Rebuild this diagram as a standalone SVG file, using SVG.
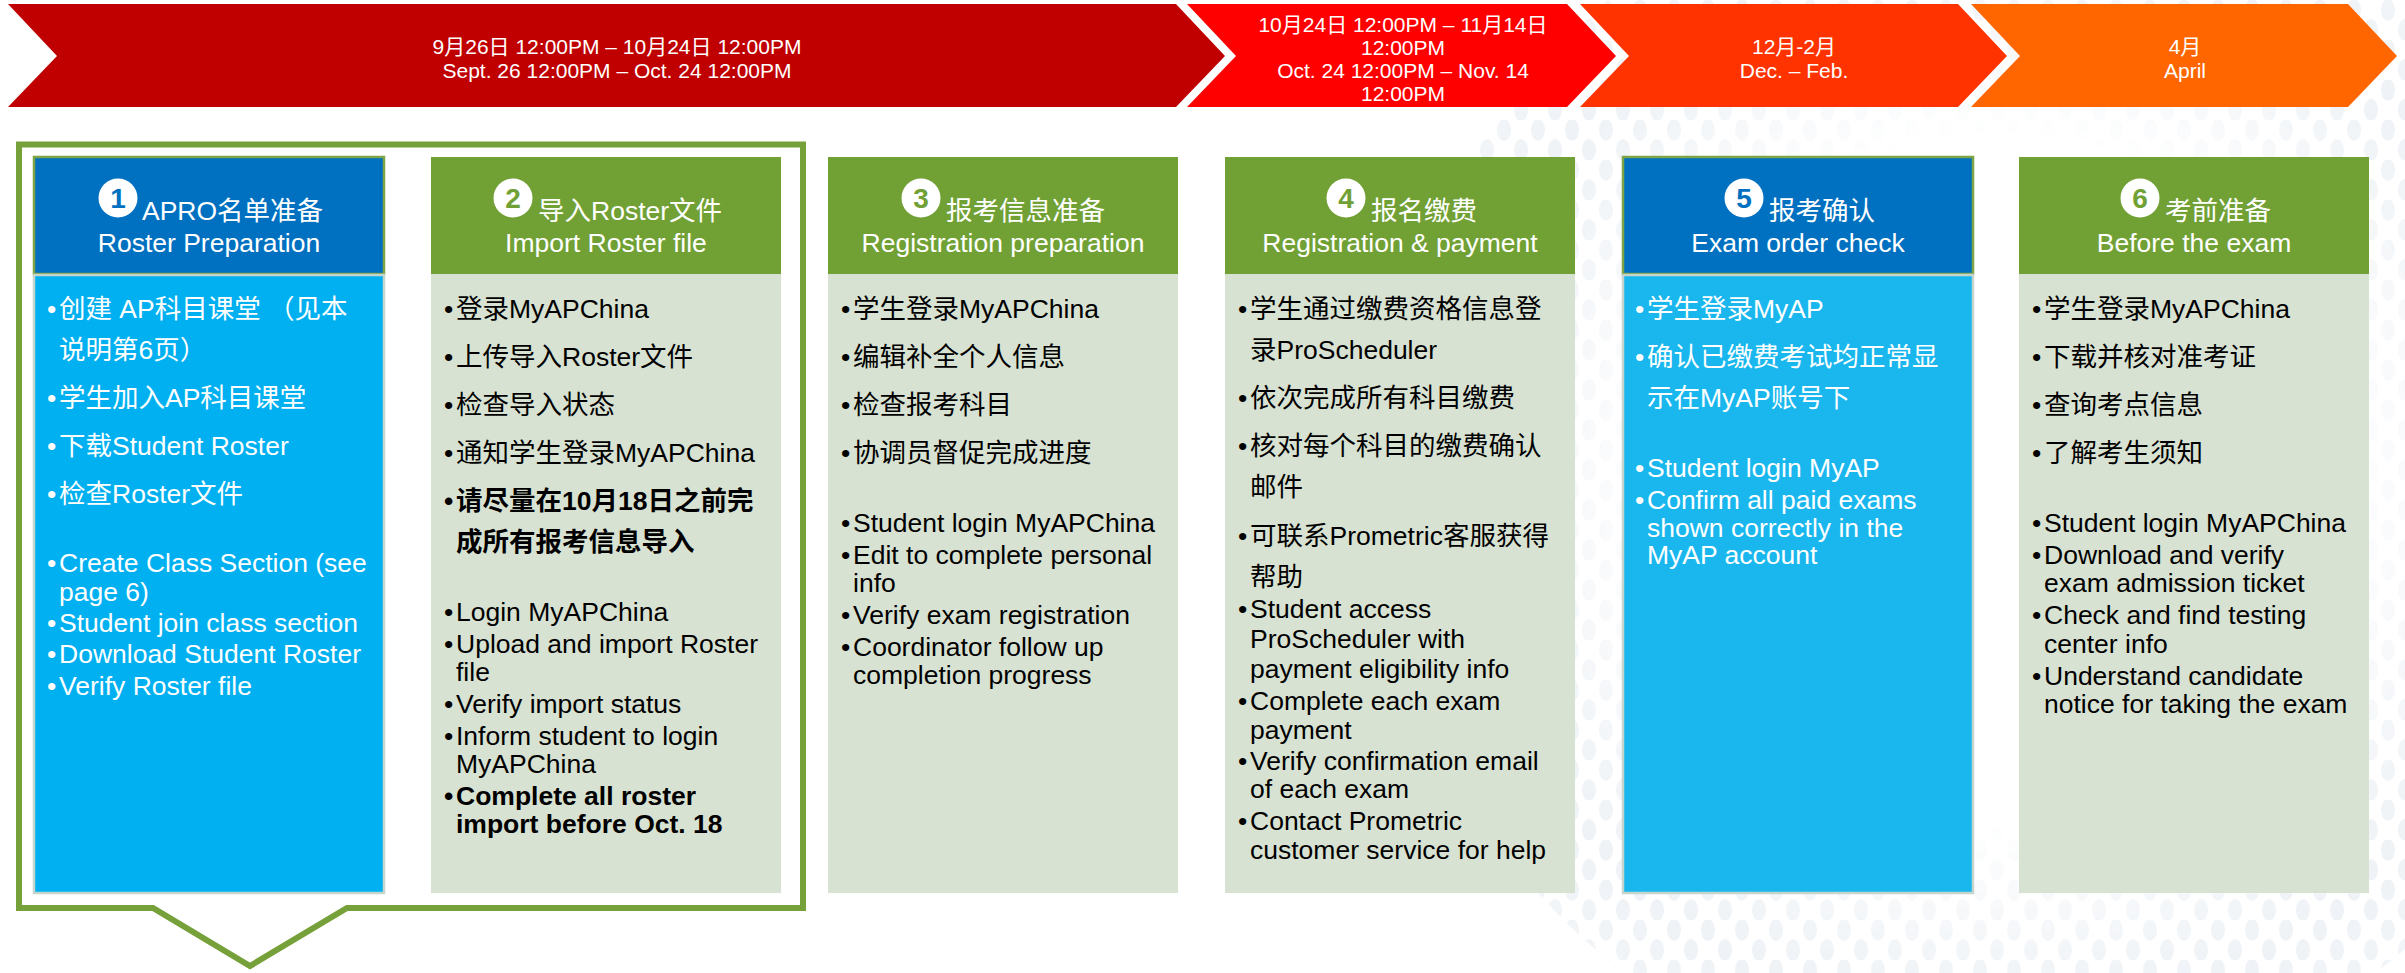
<svg xmlns="http://www.w3.org/2000/svg" width="2405" height="973" viewBox="0 0 2405 973">
  <defs>
    <style>
      text { font-family: "Liberation Sans", "Noto Sans CJK SC", sans-serif; }
      .band { fill: #fff; font-size: 21px; text-anchor: middle; }
      .ttl { fill: #fff; font-size: 26.5px; }
      .sub { fill: #fff; font-size: 26.5px; text-anchor: middle; }
      .num { font-size: 28px; font-weight: bold; text-anchor: middle; }
      .body { font-size: 26.5px; fill: #000; }
      .on-blue { fill: #fff; }
      .bold { font-weight: bold; }
      .hd-blue { fill: #0070C0; stroke: #7DA545; stroke-width: 2.5; }
      .hd-green { fill: #71A135; }
      .bd-blue { fill: #00B0F0; stroke: #C5D5CD; stroke-width: 2.5; }
      .bd-blue2 { fill: #19B7EE; stroke: #C5D5CD; stroke-width: 2.5; }
      .bd-green { fill: #D8E2D2; }
    </style>
    <!-- faint dotted globe in the background -->
    <pattern id="dots" width="34" height="40" patternUnits="userSpaceOnUse">
      <ellipse cx="8" cy="10" rx="7" ry="11" fill="#E9EEF3"/>
      <ellipse cx="25" cy="30" rx="7" ry="11" fill="#E9EEF3"/>
    </pattern>
    <radialGradient id="globeFade" gradientUnits="userSpaceOnUse" cx="2000" cy="480" r="620">
      <stop offset="0" stop-color="#000"/>
      <stop offset="0.55" stop-color="#000"/>
      <stop offset="0.88" stop-color="#fff" stop-opacity="0.75"/>
      <stop offset="1" stop-color="#fff" stop-opacity="0.6"/>
    </radialGradient>
    <mask id="globeMask" maskUnits="userSpaceOnUse" x="0" y="0" width="2405" height="973">
      <circle cx="2000" cy="480" r="620" fill="url(#globeFade)"/>
    </mask>
  </defs>

  <rect width="2405" height="973" fill="#fff"/>
  <circle cx="2000" cy="480" r="620" fill="url(#dots)" mask="url(#globeMask)"/>

  <!-- timeline banner -->
  <g id="timeline">
    <g id="phase-1">
      <path d="M8,4 H1176 L1225,56 L1176,107 H8 L57,56 Z" fill="#C00000"/>
      <text class="band" x="617" y="54">9月26日 12:00PM – 10月24日 12:00PM</text>
      <text class="band" x="617" y="78">Sept. 26 12:00PM – Oct. 24 12:00PM</text>
    </g>
    <g id="phase-2">
      <path d="M1187,4 H1567 L1616,56 L1567,107 H1187 L1236,56 Z" fill="#FF0000"/>
      <text class="band" x="1403" y="32">10月24日 12:00PM – 11月14日</text>
      <text class="band" x="1403" y="55">12:00PM</text>
      <text class="band" x="1403" y="78">Oct. 24 12:00PM – Nov. 14</text>
      <text class="band" x="1403" y="101">12:00PM</text>
    </g>
    <g id="phase-3">
      <path d="M1580,4 H1958 L2007,56 L1958,107 H1580 L1629,56 Z" fill="#FF3300"/>
      <text class="band" x="1794" y="54">12月-2月</text>
      <text class="band" x="1794" y="78">Dec. – Feb.</text>
    </g>
    <g id="phase-4">
      <path d="M1971,4 H2348 L2397,56 L2348,107 H1971 L2020,56 Z" fill="#FF6600"/>
      <text class="band" x="2185" y="54">4月</text>
      <text class="band" x="2185" y="78">April</text>
    </g>
  </g>

  <!-- callout frame around the first two steps -->
  <g id="roster-frame">
    <path d="M19,144.5 H803 V908 H347 L250,966 L153,908 H19 Z" fill="none" stroke="#76A13A" stroke-width="6"/>
  </g>

  <!-- step 1 -->
  <g id="step-1">
    <rect class="hd-blue" x="34" y="157" width="350" height="117"/>
    <rect class="bd-blue" x="34" y="275" width="350" height="618"/>
    <circle cx="118" cy="198" r="19.5" fill="#fff"/>
    <text class="num" x="118" y="208" fill="#0070C0">1</text>
    <text class="ttl" x="142" y="220">APRO名单准备</text>
    <text class="sub" x="209" y="252">Roster Preparation</text>
    <text class="body on-blue">
      <tspan x="47" y="318">•</tspan><tspan x="59" y="318">创建 AP科目课堂 （见本</tspan>
      <tspan x="59" y="359">说明第6页）</tspan>
      <tspan x="47" y="407">•</tspan><tspan x="59" y="407">学生加入AP科目课堂</tspan>
      <tspan x="47" y="455">•</tspan><tspan x="59" y="455">下载Student Roster</tspan>
      <tspan x="47" y="503">•</tspan><tspan x="59" y="503">检查Roster文件</tspan>
      <tspan x="47" y="572">•</tspan><tspan x="59" y="572">Create Class Section (see</tspan>
      <tspan x="59" y="601">page 6)</tspan>
      <tspan x="47" y="632">•</tspan><tspan x="59" y="632">Student join class section</tspan>
      <tspan x="47" y="663">•</tspan><tspan x="59" y="663">Download Student Roster</tspan>
      <tspan x="47" y="695">•</tspan><tspan x="59" y="695">Verify Roster file</tspan>
    </text>
  </g>

  <!-- step 2 -->
  <g id="step-2">
    <rect class="hd-green" x="431" y="157" width="350" height="117"/>
    <rect class="bd-green" x="431" y="274" width="350" height="619"/>
    <circle cx="513" cy="198" r="19.5" fill="#fff"/>
    <text class="num" x="513" y="208" fill="#71A135">2</text>
    <text class="ttl" x="538" y="220">导入Roster文件</text>
    <text class="sub" x="606" y="252">Import Roster file</text>
    <text class="body">
      <tspan x="444" y="318">•</tspan><tspan x="456" y="318">登录MyAPChina</tspan>
      <tspan x="444" y="366">•</tspan><tspan x="456" y="366">上传导入Roster文件</tspan>
      <tspan x="444" y="414">•</tspan><tspan x="456" y="414">检查导入状态</tspan>
      <tspan x="444" y="462">•</tspan><tspan x="456" y="462">通知学生登录MyAPChina</tspan>
      <tspan class="bold" x="444" y="510">•</tspan><tspan class="bold" x="456" y="510">请尽量在10月18日之前完</tspan>
      <tspan class="bold" x="456" y="551">成所有报考信息导入</tspan>
      <tspan x="444" y="621">•</tspan><tspan x="456" y="621">Login MyAPChina</tspan>
      <tspan x="444" y="653">•</tspan><tspan x="456" y="653">Upload and import Roster</tspan>
      <tspan x="456" y="681">file</tspan>
      <tspan x="444" y="713">•</tspan><tspan x="456" y="713">Verify import status</tspan>
      <tspan x="444" y="745">•</tspan><tspan x="456" y="745">Inform student to login</tspan>
      <tspan x="456" y="773">MyAPChina</tspan>
      <tspan class="bold" x="444" y="805">•</tspan><tspan class="bold" x="456" y="805">Complete all roster</tspan>
      <tspan class="bold" x="456" y="833">import before Oct. 18</tspan>
    </text>
  </g>

  <!-- step 3 -->
  <g id="step-3">
    <rect class="hd-green" x="828" y="157" width="350" height="117"/>
    <rect class="bd-green" x="828" y="274" width="350" height="619"/>
    <circle cx="921" cy="198" r="19.5" fill="#fff"/>
    <text class="num" x="921" y="208" fill="#71A135">3</text>
    <text class="ttl" x="946" y="220">报考信息准备</text>
    <text class="sub" x="1003" y="252">Registration preparation</text>
    <text class="body">
      <tspan x="841" y="318">•</tspan><tspan x="853" y="318">学生登录MyAPChina</tspan>
      <tspan x="841" y="366">•</tspan><tspan x="853" y="366">编辑补全个人信息</tspan>
      <tspan x="841" y="414">•</tspan><tspan x="853" y="414">检查报考科目</tspan>
      <tspan x="841" y="462">•</tspan><tspan x="853" y="462">协调员督促完成进度</tspan>
      <tspan x="841" y="532">•</tspan><tspan x="853" y="532">Student login MyAPChina</tspan>
      <tspan x="841" y="564">•</tspan><tspan x="853" y="564">Edit to complete personal</tspan>
      <tspan x="853" y="592">info</tspan>
      <tspan x="841" y="624">•</tspan><tspan x="853" y="624">Verify exam registration</tspan>
      <tspan x="841" y="656">•</tspan><tspan x="853" y="656">Coordinator follow up</tspan>
      <tspan x="853" y="684">completion progress</tspan>
    </text>
  </g>

  <!-- step 4 -->
  <g id="step-4">
    <rect class="hd-green" x="1225" y="157" width="350" height="117"/>
    <rect class="bd-green" x="1225" y="274" width="350" height="619"/>
    <circle cx="1346" cy="198" r="19.5" fill="#fff"/>
    <text class="num" x="1346" y="208" fill="#71A135">4</text>
    <text class="ttl" x="1371" y="220">报名缴费</text>
    <text class="sub" x="1400" y="252">Registration &amp; payment</text>
    <text class="body">
      <tspan x="1238" y="318">•</tspan><tspan x="1250" y="318">学生通过缴费资格信息登</tspan>
      <tspan x="1250" y="359">录ProScheduler</tspan>
      <tspan x="1238" y="407">•</tspan><tspan x="1250" y="407">依次完成所有科目缴费</tspan>
      <tspan x="1238" y="455">•</tspan><tspan x="1250" y="455">核对每个科目的缴费确认</tspan>
      <tspan x="1250" y="496">邮件</tspan>
      <tspan x="1238" y="545">•</tspan><tspan x="1250" y="545">可联系Prometric客服获得</tspan>
      <tspan x="1250" y="586">帮助</tspan>
      <tspan x="1238" y="618">•</tspan><tspan x="1250" y="618">Student access</tspan>
      <tspan x="1250" y="648">ProScheduler with</tspan>
      <tspan x="1250" y="678">payment eligibility info</tspan>
      <tspan x="1238" y="710">•</tspan><tspan x="1250" y="710">Complete each exam</tspan>
      <tspan x="1250" y="739">payment</tspan>
      <tspan x="1238" y="770">•</tspan><tspan x="1250" y="770">Verify confirmation email</tspan>
      <tspan x="1250" y="798">of each exam</tspan>
      <tspan x="1238" y="830">•</tspan><tspan x="1250" y="830">Contact Prometric</tspan>
      <tspan x="1250" y="859">customer service for help</tspan>
    </text>
  </g>

  <!-- step 5 -->
  <g id="step-5">
    <rect class="hd-blue" x="1623" y="157" width="350" height="117"/>
    <rect class="bd-blue2" x="1623" y="275" width="350" height="618"/>
    <circle cx="1744" cy="198" r="19.5" fill="#fff"/>
    <text class="num" x="1744" y="208" fill="#0070C0">5</text>
    <text class="ttl" x="1769" y="220">报考确认</text>
    <text class="sub" x="1798" y="252">Exam order check</text>
    <text class="body on-blue">
      <tspan x="1635" y="318">•</tspan><tspan x="1647" y="318">学生登录MyAP</tspan>
      <tspan x="1635" y="366">•</tspan><tspan x="1647" y="366">确认已缴费考试均正常显</tspan>
      <tspan x="1647" y="407">示在MyAP账号下</tspan>
      <tspan x="1635" y="477">•</tspan><tspan x="1647" y="477">Student login MyAP</tspan>
      <tspan x="1635" y="509">•</tspan><tspan x="1647" y="509">Confirm all paid exams</tspan>
      <tspan x="1647" y="537">shown correctly in the</tspan>
      <tspan x="1647" y="564">MyAP account</tspan>
    </text>
  </g>

  <!-- step 6 -->
  <g id="step-6">
    <rect class="hd-green" x="2019" y="157" width="350" height="117"/>
    <rect class="bd-green" x="2019" y="274" width="350" height="619"/>
    <circle cx="2140" cy="198" r="19.5" fill="#fff"/>
    <text class="num" x="2140" y="208" fill="#71A135">6</text>
    <text class="ttl" x="2165" y="220">考前准备</text>
    <text class="sub" x="2194" y="252">Before the exam</text>
    <text class="body">
      <tspan x="2032" y="318">•</tspan><tspan x="2044" y="318">学生登录MyAPChina</tspan>
      <tspan x="2032" y="366">•</tspan><tspan x="2044" y="366">下载并核对准考证</tspan>
      <tspan x="2032" y="414">•</tspan><tspan x="2044" y="414">查询考点信息</tspan>
      <tspan x="2032" y="462">•</tspan><tspan x="2044" y="462">了解考生须知</tspan>
      <tspan x="2032" y="532">•</tspan><tspan x="2044" y="532">Student login MyAPChina</tspan>
      <tspan x="2032" y="564">•</tspan><tspan x="2044" y="564">Download and verify</tspan>
      <tspan x="2044" y="592">exam admission ticket</tspan>
      <tspan x="2032" y="624">•</tspan><tspan x="2044" y="624">Check and find testing</tspan>
      <tspan x="2044" y="653">center info</tspan>
      <tspan x="2032" y="685">•</tspan><tspan x="2044" y="685">Understand candidate</tspan>
      <tspan x="2044" y="713">notice for taking the exam</tspan>
    </text>
  </g>
</svg>
